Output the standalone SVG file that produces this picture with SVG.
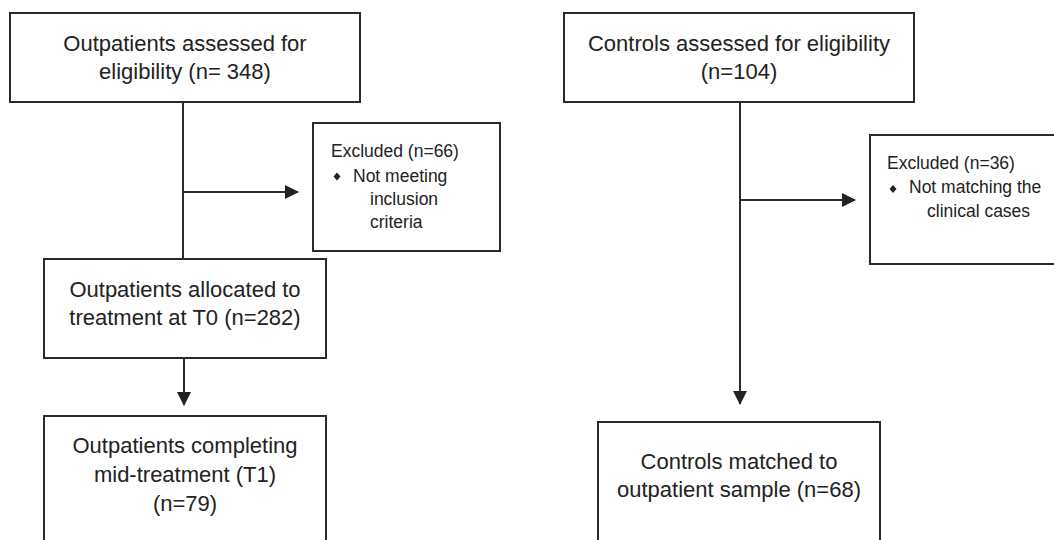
<svg xmlns="http://www.w3.org/2000/svg" width="1054" height="540" viewBox="0 0 1054 540">
<defs>
<style>
.box{fill:#fff;stroke:#2b2b2b;stroke-width:2}
.t{font-family:"Liberation Sans",Arial,sans-serif;font-size:22px;fill:#222;text-anchor:middle}
.s{font-family:"Liberation Sans",Arial,sans-serif;font-size:17.5px;fill:#222}
.ln{stroke:#2b2b2b;stroke-width:2;fill:none}
</style>
<marker id="ah" markerWidth="10" markerHeight="10" refX="9" refY="5" orient="auto" markerUnits="userSpaceOnUse"><path d="M0,0 L10,5 L0,10 z" fill="#222"/></marker>
<marker id="ah2" viewBox="0 0 14 14" markerWidth="14" markerHeight="14" refX="13" refY="7" orient="auto" markerUnits="userSpaceOnUse"><path d="M0,0 L14,7 L0,14 z" fill="#222"/></marker>
</defs>
<rect width="1054" height="540" fill="#fff"/>
<g id="connectors">
<line class="ln" x1="183" y1="102" x2="183" y2="259"/>
<line class="ln" x1="183" y1="192" x2="298" y2="192" marker-end="url(#ah2)"/>
<line class="ln" x1="184" y1="358" x2="184" y2="405" marker-end="url(#ah2)"/>
<line class="ln" x1="740" y1="102" x2="740" y2="404" marker-end="url(#ah2)"/>
<line class="ln" x1="740" y1="200" x2="855" y2="200" marker-end="url(#ah2)"/>
</g>
<g id="n1">
<rect class="box" x="10" y="13" width="350" height="89"/>
<text class="t" x="185" y="51">Outpatients assessed for</text>
<text class="t" x="185" y="79">eligibility (n= 348)</text>
</g>
<g id="n2">
<rect class="box" x="313" y="123" width="187" height="128"/>
<text class="s" x="331" y="157">Excluded (n=66)</text>
<path d="M337,172.5 L340.5,176.5 L337,180.5 L333.5,176.5 z" fill="#222"/>
<text class="s" x="353" y="182">Not meeting</text>
<text class="s" x="370" y="205">inclusion</text>
<text class="s" x="370" y="228">criteria</text>
</g>
<g id="n3">
<rect class="box" x="44" y="259" width="282" height="99"/>
<text class="t" x="185" y="297">Outpatients allocated to</text>
<text class="t" x="185" y="325">treatment at T0 (n=282)</text>
</g>
<g id="n4">
<rect class="box" x="44" y="416" width="282" height="130"/>
<text class="t" x="185" y="453">Outpatients completing</text>
<text class="t" x="185" y="482">mid-treatment (T1)</text>
<text class="t" x="185" y="511">(n=79)</text>
</g>
<g id="n5">
<rect class="box" x="564" y="13" width="350" height="89"/>
<text class="t" x="739" y="51">Controls assessed for eligibility</text>
<text class="t" x="739" y="79">(n=104)</text>
</g>
<g id="n6">
<rect class="box" x="870" y="135" width="200" height="129"/>
<text class="s" x="887" y="169">Excluded (n=36)</text>
<path d="M893,185 L896.5,189 L893,193 L889.5,189 z" fill="#222"/>
<text class="s" x="909" y="193">Not matching the</text>
<text class="s" x="927" y="217">clinical cases</text>
</g>
<g id="n7">
<rect class="box" x="598" y="422" width="282" height="130"/>
<text class="t" x="739" y="469">Controls matched to</text>
<text class="t" x="739" y="497">outpatient sample (n=68)</text>
</g>
</svg>
